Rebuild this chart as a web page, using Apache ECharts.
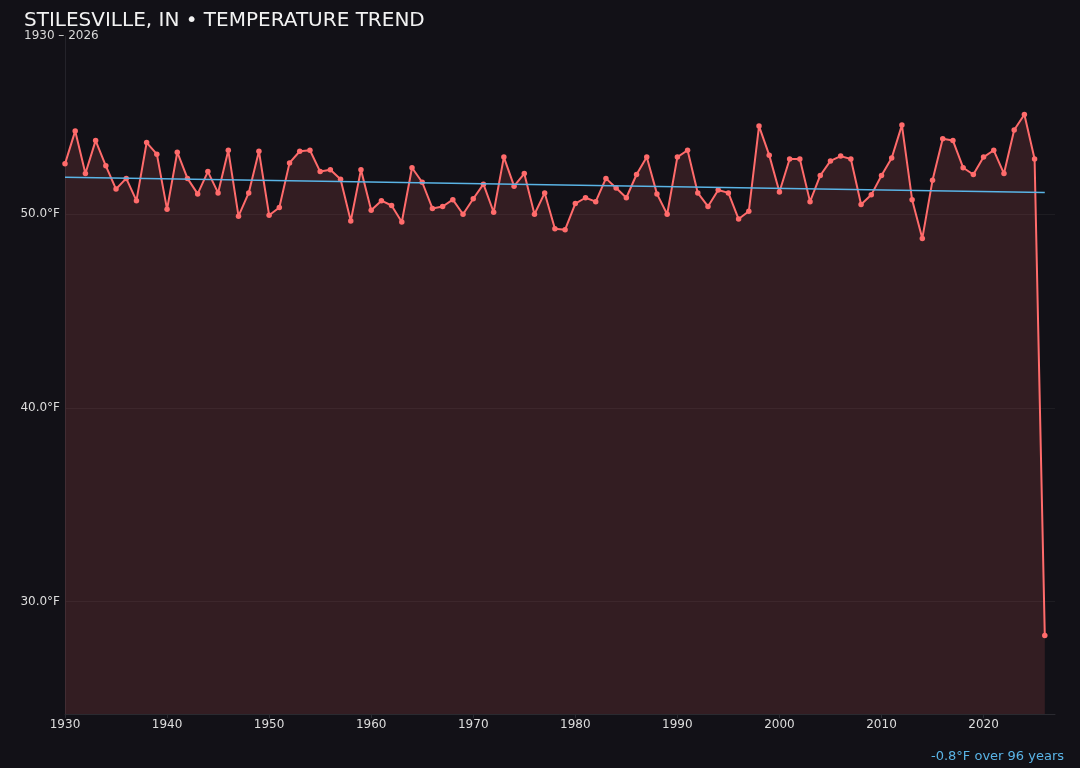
<!DOCTYPE html>
<html>
<head>
<meta charset="utf-8">
<title>Stilesville, IN temperature trend</title>
<script src="https://cdn.jsdelivr.net/npm/echarts@6/dist/echarts.min.js"></script>
<style>
  html, body { margin: 0; padding: 0; background: #121117; }
  #chart { width: 1080px; height: 768px; }
</style>
</head>
<body>
<div id="chart"></div>
<script>
// annual mean temperature
const firstYear = 1930
const lastYear = 2026
const temps = [
  52.6, 54.3, 52.1, 53.8, 52.5, 51.3, 51.85, 50.7, 53.7, 53.1,      // 1930s
  50.25, 53.2, 51.85, 51.05, 52.2, 51.1, 53.3, 49.9, 51.1, 53.25,   // 1940s
  49.95, 50.35, 52.65, 53.25, 53.3, 52.2, 52.3, 51.8, 49.65, 52.3,  // 1950s
  50.2, 50.7, 50.45, 49.6, 52.4, 51.65, 50.3, 50.4, 50.75, 50.0,    // 1960s
  50.8, 51.55, 50.1, 52.95, 51.45, 52.1, 50.0, 51.1, 49.25, 49.2,   // 1970s
  50.55, 50.85, 50.65, 51.85, 51.35, 50.85, 52.05, 52.95, 51.05, 50.0, // 1980s
  52.95, 53.3, 51.1, 50.4, 51.25, 51.1, 49.75, 50.15, 54.55, 53.05, // 1990s
  51.15, 52.85, 52.85, 50.65, 52.0, 52.75, 53.0, 52.85, 50.5, 51.0, // 2000s
  52.0, 52.9, 54.6, 50.75, 48.75, 51.75, 53.9, 53.8, 52.4, 52.05,   // 2010s
  52.95, 53.3, 52.1, 54.35, 55.15, 52.85, 28.25                    // 2020s
]
const years = temps.map((t, i) => firstYear + i)

// linear trend end points
const trendYears = [1930, 2026]
const trendTemps = [51.91, 51.12]

const trendNote = '-0.8°F over 96 years'

const chart = echarts.init(document.getElementById('chart'))

const option = {
  backgroundColor: '#121117',
  textStyle: { fontFamily: 'DejaVu Sans' },
  animation: false,
  title: [
    {
      text: 'STILESVILLE, IN • TEMPERATURE TREND',
      subtext: firstYear + ' – ' + lastYear,
      left: 19,
      top: 6,
      itemGap: -1,
      textStyle: { color: '#f2f2f2', fontSize: 20, fontWeight: 'normal' },
      subtextStyle: { color: '#d8d8d8', fontSize: 12 }
    },
    {
      text: trendNote,
      right: 11,
      bottom: 0,
      textStyle: { color: '#5ab4e6', fontSize: 13, fontWeight: 'normal' }
    }
  ],
  grid: {
    left: 65,
    right: 25,
    top: 36,
    bottom: 54
  },
  xAxis: {
    type: 'value',
    min: 1930,
    max: 2027,
    interval: 10,
    axisLine: { lineStyle: { color: '#2a2a30' } },
    axisTick: { show: true, length: 4, lineStyle: { color: '#2a2a30' } },
    axisLabel: {
      color: '#dddddd',
      fontSize: 12,
      margin: 5,
      showMaxLabel: false,
      formatter: v => String(v)
    },
    splitLine: { show: false }
  },
  yAxis: {
    type: 'value',
    min: 24.2,
    max: 59.2,
    axisLine: { show: true, lineStyle: { color: '#24232a' } },
    axisTick: { show: false },
    axisLabel: {
      color: '#dddddd',
      fontSize: 12,
      margin: 5,
      showMinLabel: false,
      showMaxLabel: false,
      formatter: v => v.toFixed(1) + '°F'
    },
    splitLine: {
      show: true,
      showMinLine: false,
      showMaxLine: false,
      lineStyle: { color: 'rgba(255,255,255,0.05)' }
    }
  },
  series: [
    {
      name: 'Temperature',
      type: 'line',
      data: years.map((y, i) => [y, temps[i]]),
      symbol: 'circle',
      symbolSize: 5.5,
      lineStyle: { color: '#ff6b6b', width: 2 },
      itemStyle: { color: '#ff6b6b' },
      areaStyle: { origin: 'start', color: 'rgba(255, 107, 107, 0.2)' },
      z: 2
    },
    {
      name: 'Trend',
      type: 'line',
      data: trendYears.map((y, i) => [y, trendTemps[i]]),
      symbol: 'none',
      lineStyle: { color: '#5ab4e6', width: 1.5 },
      z: 3
    }
  ]
}

chart.setOption(option)
</script>
</body>
</html>
